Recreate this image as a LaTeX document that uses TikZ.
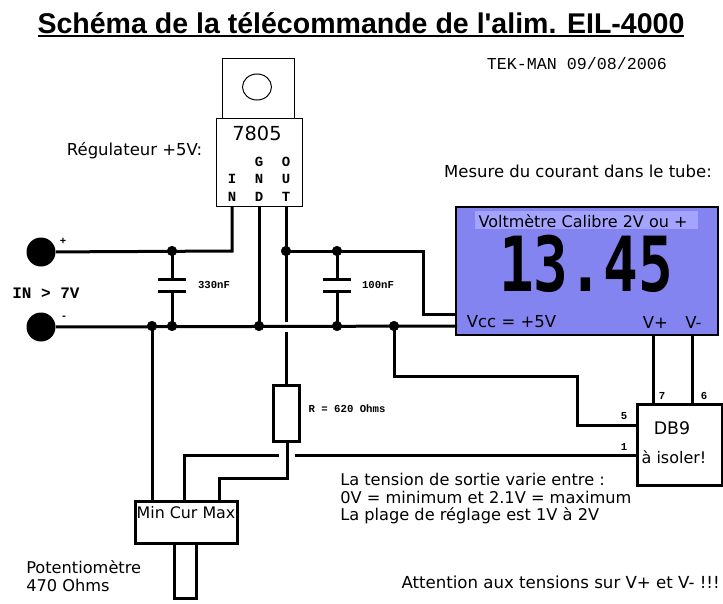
\documentclass[tikz,border=0pt]{standalone}
\usepackage{fontspec}
\usepackage{xcolor}
\setmainfont{DejaVu Sans}
\newfontfamily\monofnt{Liberation Mono}
\newfontfamily\segfnt{DejaVu Sans Mono}
\newfontfamily\titlefnt{Liberation Sans}
\definecolor{lcdblue}{HTML}{8484F0}
\definecolor{lcdband}{HTML}{A4A4FF}

\tikzset{
    wire/.style = {black, line width = 2.25pt},
    thinbox/.style = {draw = black, line width = .75pt, fill = white, inner sep = 0pt, outer sep = 0pt},
    thickbox/.style = {draw = black, line width = 2.25pt, fill = white, inner sep = 0pt, outer sep = 0pt},
    lab/.style = {inner sep = 0pt, font = \fontsize{12.35}{14}\selectfont},
    notelab/.style = {inner sep = 0pt, anchor = west, font = \fontsize{12.15}{14}\selectfont},
    tiny/.style = {inner sep = 0pt, font = \fontsize{8}{10}\selectfont\monofnt\bfseries},
    pinlab/.style = {inner sep = 0pt, font = \fontsize{10.5}{12}\selectfont\monofnt\bfseries}
}

\begin{document}
\begin{tikzpicture}[x = .75pt, y = -.75pt]
        \useasboundingbox (0,0) rectangle (723,603);

        % title
        \node[inner sep = 0pt, font = \fontsize{21.4}{24}\selectfont\titlefnt\bfseries] (title) at (361,23) {Schéma de la télécommande de l'alim. EIL-4000};
        \coordinate (ulleft) at (38,36);
        \coordinate (ulright) at (684,36);
        \draw[black, line width = 1.5pt] (ulleft) -- (ulright);
        \node[inner sep = 0pt, font = \fontsize{12.5}{15}\selectfont\monofnt] (date) at (577,64) {TEK-MAN 09/08/2006};

        % regulator
        \node[thinbox, minimum width = 54pt, minimum height = 45pt] (tab) at (258,88) {};
        \draw[black, line width = .75pt] (257,87) ellipse (14.5 and 13);
        \node[thinbox, minimum width = 64.5pt, minimum height = 66pt] (reg) at (259,162) {};
        \node[inner sep = 0pt, font = \fontsize{14.5}{16}\selectfont] (regname) at (257,133) {7805};
        \node[pinlab] (i1) at (232,179) {I};
        \node[pinlab] (i2) at (232,197) {N};
        \node[pinlab] (g1) at (259,162) {G};
        \node[pinlab] (g2) at (259,179) {N};
        \node[pinlab] (g3) at (259,197) {D};
        \node[pinlab] (o1) at (286,162) {O};
        \node[pinlab] (o2) at (286,179) {U};
        \node[pinlab] (o3) at (286,197) {T};
        \node[lab] (reglab) at (134.5,151) {Régulateur +5V:};

        % display
        \node[draw = black, line width = 1.1pt, fill = lcdblue, inner sep = 0pt, outer sep = 0pt, minimum width = 196.5pt, minimum height = 96pt] (lcd) at (587,271) {};
        \fill[lcdband] (475,211) rectangle (698,229);
        \node[inner sep = 0pt, font = \fontsize{12}{14}\selectfont] (lcdtop) at (583,221) {Voltmètre Calibre 2V ou +};
        \node[inner sep = 0pt, font = \fontsize{57}{60}\selectfont\segfnt\bfseries] (lcdval) at (586,264) {\scalebox{.76}[1]{13.45}};
        \node[lab] (vcc) at (511.5,322) {Vcc = +5V};
        \node[lab] (vp) at (655.5,322) {V+};
        \node[lab] (vm) at (693.5,322) {V-};
        \node[lab] (mes) at (578,171) {Mesure du courant dans le tube:};

        % connector
        \node[thickbox, minimum width = 63.75pt, minimum height = 60.75pt] (db) at (679.5,444.5) {};
        \node[inner sep = 0pt, font = \fontsize{13}{15}\selectfont] (dbname) at (672,428) {DB9};
        \node[inner sep = 0pt, font = \fontsize{12}{14}\selectfont] (dbiso) at (674,457) {à isoler!};

        % pot and resistor
        \node[thickbox, minimum width = 77pt, minimum height = 31.5pt] (pot) at (186.5,522) {};
        \node[inner sep = 0pt, font = \fontsize{11.9}{14}\selectfont] (potlab) at (186,513) {Min Cur Max};
        \node[thickbox, minimum width = 16.5pt, minimum height = 41.25pt] (shaft) at (185.5,570.5) {};
        \node[thickbox, minimum width = 19.5pt, minimum height = 42pt] (res) at (286.5,413) {};

        % input terminals
        \node[circle, fill = black, inner sep = 0pt, minimum size = 21.75pt] (plus) at (41,252) {};
        \node[circle, fill = black, inner sep = 0pt, minimum size = 21.75pt] (minus) at (41,327) {};

        % junctions
        \coordinate (jtop1) at (172,251);
        \coordinate (jbot1) at (172,326);
        \coordinate (jbot0) at (152,326);
        \coordinate (jgnd) at (259,326);
        \coordinate (jout) at (286,251);
        \coordinate (jtop2) at (337,251);
        \coordinate (jbot2) at (337,326);
        \coordinate (jbot3) at (394,326);
        \coordinate (inbend) at (232,251);
        \coordinate (vccup) at (423,251);
        \coordinate (vccdn) at (423,314);
        \coordinate (busend) at (457,326);
        \coordinate (outgap1) at (286,322);
        \coordinate (outgap2) at (286,332);
        \coordinate (db5a) at (394,376);
        \coordinate (db5b) at (577,376);
        \coordinate (db5c) at (577,425);
        \coordinate (curleft) at (184,455);
        \coordinate (curright) at (279,455);
        \coordinate (lineone) at (295,455);
        \coordinate (maxleft) at (219,478);
        \coordinate (maxright) at (287,478);
        \coordinate (vplus) at (653,404);
        \coordinate (vminus) at (692,404);

        % power wires
        \draw[wire] (plus) -- (inbend) -- (inbend |- reg.south);
        \draw[wire] (minus) -- (busend);
        \draw[wire] (jgnd) -- (jgnd |- reg.south);
        \draw[wire] (jout) -- (jout |- reg.south);
        \draw[wire] (jout) -- (vccup) -- (vccdn) -- (vccdn -| lcd.west);
        \draw[wire] (jout) -- (outgap1);
        \draw[wire] (outgap2) -- (outgap2 |- res.north);
        \draw[wire] (jbot3) -- (db5a) -- (db5b) -- (db5c) -- (db5c -| db.west);
        \draw[wire] (lineone) -- (lineone -| db.west);
        \draw[wire] (jbot0) -- (jbot0 |- pot.north);
        \draw[wire] (curleft |- pot.north) -- (curleft) -- (curright);
        \draw[wire] (maxleft |- pot.north) -- (maxleft) -- (maxright) -- (maxright |- res.south);
        \draw[wire] (vplus |- lcd.south) -- (vplus);
        \draw[wire] (vminus |- lcd.south) -- (vminus);

        % capacitors
        \draw[wire] (jtop1) -- (172,279);
        \draw[wire] (158,279) -- (186,279);
        \draw[wire] (158,291) -- (186,291);
        \draw[wire] (172,291) -- (jbot1);
        \draw[wire] (jtop2) -- (337,279);
        \draw[wire] (323,279) -- (351,279);
        \draw[wire] (323,291) -- (351,291);
        \draw[wire] (337,291) -- (jbot2);

        % junction dots
        \foreach \p in {jtop1, jbot1, jbot0, jgnd, jout, jtop2, jbot2, jbot3}
            \filldraw[black] (\p) circle (3.6pt);

        % small labels
        \node[tiny] (capa) at (214,285) {330nF};
        \node[tiny] (capb) at (378,285) {100nF};
        \node[tiny] (reslab) at (347,409) {R = 620 Ohms};
        \node[tiny] (plslab) at (63,241) {+};
        \node[tiny] (mnslab) at (64,318) {-};
        \node[tiny] (p7) at (662,396) {7};
        \node[tiny] (p6) at (704,396) {6};
        \node[tiny] (p5) at (624,416) {5};
        \node[tiny] (p1) at (624,447) {1};
        \node[inner sep = 0pt, font = \fontsize{12}{14}\selectfont\monofnt\bfseries] (inlab) at (46,293) {IN > 7V};

        % notes
        \node[notelab] (note1) at (340,479) {La tension de sortie varie entre :};
        \node[notelab] (note2) at (340,497) {0V = minimum et 2.1V = maximum};
        \node[notelab] (note3) at (340,516) {La plage de réglage est 1V à 2V};
        \node[notelab] (pot1) at (26,567) {Potentiomètre};
        \node[notelab] (pot2) at (26,585) {470 Ohms};
        \node[inner sep = 0pt, anchor = east, font = \fontsize{12.45}{14}\selectfont] (warn) at (720,582) {Attention aux tensions sur V+ et V- !!!};
\end{tikzpicture}
\end{document}
